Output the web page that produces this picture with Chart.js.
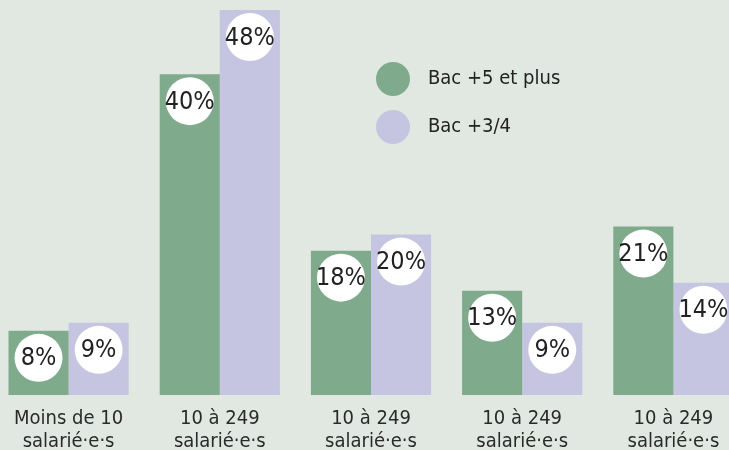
<!DOCTYPE html>
<html>
<head>
<meta charset="utf-8">
<script src="https://cdn.jsdelivr.net/npm/chart.js@4/dist/chart.umd.min.js"></script>
<style>
  html, body { margin: 0; padding: 0; overflow: hidden; background: #e0e8e1; }
  #wrap { position: absolute; left: -7px; top: 0; width: 756px; height: 450px; }
</style>
</head>
<body>
<div id="wrap"><canvas id="graficoTaille" width="756" height="450"></canvas></div>
<script>
// categories (two-line labels)
var categories = [
  ["Moins de 10", "salarié·e·s"],
  ["10 à 249", "salarié·e·s"],
  ["10 à 249", "salarié·e·s"],
  ["10 à 249", "salarié·e·s"],
  ["10 à 249", "salarié·e·s"]
];
var seriesNames = ["Bac +5 et plus", "Bac +3/4"];
var bac5 = [8, 40, 18, 13, 21];
var bac34 = [9, 48, 20, 9, 14];

var FONT = "'DejaVu Sans Condensed', 'DejaVu Sans', sans-serif";

// white circle with the value, near the top of each bar
var bulles = {
  id: 'bulles',
  afterDatasetsDraw: function (chart) {
    var ctx = chart.ctx;
    ctx.save();
    chart.data.datasets.forEach(function (ds, i) {
      chart.getDatasetMeta(i).data.forEach(function (bar, j) {
        var cx = bar.x, cy = bar.y + 27;
        ctx.beginPath();
        ctx.arc(cx, cy, 24, 0, Math.PI * 2);
        ctx.fillStyle = '#ffffff';
        ctx.fill();
        ctx.fillStyle = '#222222';
        ctx.font = '25px ' + FONT;
        ctx.textAlign = 'center';
        ctx.textBaseline = 'middle';
        ctx.fillText(ds.data[j] + '%', cx, cy + 1);
      });
    });
    ctx.restore();
  }
};

// legend drawn inside the plot area
var legende = {
  id: 'legende',
  afterDraw: function (chart) {
    var ctx = chart.ctx;
    ctx.save();
    chart.data.datasets.forEach(function (ds, i) {
      var y = 79 + i * 48;
      ctx.beginPath();
      ctx.arc(400, y, 17, 0, Math.PI * 2);
      ctx.fillStyle = ds.backgroundColor;
      ctx.fill();
      ctx.fillStyle = '#222222';
      ctx.font = '20px ' + FONT;
      ctx.textAlign = 'left';
      ctx.textBaseline = 'middle';
      ctx.fillText(ds.label, 435, y);
    });
    ctx.restore();
  }
};

new Chart(document.getElementById('graficoTaille'), {
  type: 'bar',
  data: {
    labels: categories,
    datasets: [
      { label: seriesNames[0], data: bac5, backgroundColor: '#80aa8c' },
      { label: seriesNames[1], data: bac34, backgroundColor: '#c5c5e2' }
    ]
  },
  options: {
    responsive: false,
    animation: false,
    layout: { padding: 0 },
    datasets: { bar: { categoryPercentage: 0.795, barPercentage: 1, borderWidth: 0 } },
    plugins: {
      legend: { display: false },
      tooltip: { enabled: false }
    },
    scales: {
      x: {
        grid: { display: false, drawTicks: false },
        border: { display: false },
        ticks: {
          color: '#2a2a2a',
          font: { family: FONT, size: 20, lineHeight: 1.15 },
          padding: 12,
          maxRotation: 0,
          autoSkip: false
        },
        afterFit: function (scale) { scale.height = 55; }
      },
      y: {
        display: false,
        min: 0,
        max: 49.25
      }
    }
  },
  plugins: [bulles, legende]
});
</script>
</body>
</html>
